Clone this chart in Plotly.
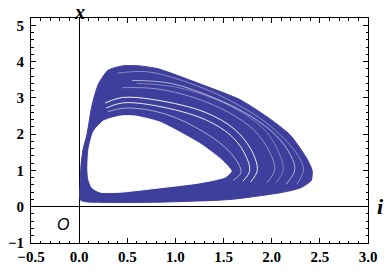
import plotly.graph_objects as go

# outer edge of the attractor (i, x)
outer_i = [0.01, 0.01, 0.02, 0.04, 0.08, 0.135, 0.20, 0.30, 0.45, 0.63, 0.82, 1.31, 1.67, 1.95,
           2.19, 2.36, 2.42, 2.41, 2.30, 2.12, 1.57, 0.74, 0.22, 0.06, 0.01]
outer_x = [0.19, 0.61, 1.16, 1.57, 1.98, 2.81, 3.38, 3.76, 3.88, 3.88, 3.80, 3.33, 2.95, 2.48,
           1.98, 1.35, 1.00, 0.72, 0.52, 0.40, 0.20, 0.12, 0.12, 0.14, 0.19]

# edge of the empty hole inside
inner_i = [0.09, 0.10, 0.15, 0.25, 0.43, 0.58, 0.84, 1.26, 1.48, 1.58, 1.52, 1.26, 0.84, 0.43,
           0.22, 0.135, 0.10, 0.09]
inner_x = [1.02, 1.57, 2.07, 2.36, 2.50, 2.50, 2.33, 1.73, 1.29, 0.98, 0.82, 0.66, 0.52, 0.40,
           0.40, 0.52, 0.74, 1.02]

# thin white gaps between bundles of orbits
gaps = [
    ([0.30, 0.50, 0.90, 1.30, 1.55, 1.66, 1.68, 1.60],
     [2.62, 2.72, 2.55, 2.05, 1.55, 1.15, 0.94, 0.72]),
    ([0.28, 0.45, 0.80, 1.31, 1.60, 1.74, 1.77, 1.70],
     [2.72, 2.86, 2.78, 2.40, 1.90, 1.35, 0.98, 0.70]),
    ([0.27, 0.45, 0.80, 1.31, 1.62, 1.80, 1.85, 1.78],
     [2.86, 3.01, 2.94, 2.60, 2.12, 1.50, 1.00, 0.68]),
    ([0.45, 0.80, 1.20, 1.55, 1.82, 1.98, 2.03, 1.95],
     [3.28, 3.25, 3.00, 2.60, 2.10, 1.50, 1.02, 0.66]),
    ([0.60, 1.00, 1.40, 1.72, 1.95, 2.08, 2.12, 2.04],
     [3.40, 3.30, 2.98, 2.55, 2.05, 1.45, 1.02, 0.64]),
    ([0.55, 0.95, 1.40, 1.78, 2.05, 2.20, 2.24, 2.15],
     [3.48, 3.40, 3.00, 2.50, 1.95, 1.40, 1.02, 0.62]),
    ([0.40, 0.70, 1.10, 1.55, 1.95, 2.25, 2.33, 2.26],
     [3.68, 3.72, 3.45, 2.95, 2.30, 1.50, 1.02, 0.62]),
]
gap_alpha = [0.55, 0.9, 0.95, 0.45, 0.35, 0.6, 0.4]

blue = "rgb(62,62,156)"
fig = go.Figure()
fig.add_trace(go.Scatter(x=outer_i, y=outer_x, mode="lines", fill="toself", fillcolor=blue,
                         line=dict(color=blue, width=1, shape="spline", smoothing=0.6),
                         hoverinfo="skip"))
fig.add_trace(go.Scatter(x=inner_i, y=inner_x, mode="lines", fill="toself", fillcolor="white",
                         line=dict(color="white", width=1, shape="spline", smoothing=0.6),
                         hoverinfo="skip"))
for (gi, gx), a in zip(gaps, gap_alpha):
    fig.add_trace(go.Scatter(x=gi, y=gx, mode="lines", opacity=a,
                             line=dict(color="white", width=1, shape="spline", smoothing=1),
                             hoverinfo="skip"))

serif = "Liberation Serif"
tickfont = dict(family=serif, size=15, color="black", weight="bold")
axis_common = dict(showline=True, linecolor="black", linewidth=1, mirror="ticks",
                   ticks="inside", ticklen=5, tickcolor="black", showgrid=False,
                   zeroline=True, zerolinecolor="black", zerolinewidth=1, automargin=False,
                   tickfont=tickfont, layer="above traces")

fig.update_layout(
    width=390, height=273,
    plot_bgcolor="white", paper_bgcolor="white",
    font=dict(family=serif),
    margin=dict(l=31, r=22, t=18, b=30),
    showlegend=False,
    xaxis=dict(range=[-0.5, 3.0], dtick=0.5, tick0=0, tickformat=".1f",
               minor=dict(dtick=0.1, ticks="inside", ticklen=2.5, tickcolor="black"),
               **axis_common),
    yaxis=dict(range=[-1, 5.2], dtick=1, tick0=0, ticklabelstandoff=3,
               minor=dict(dtick=0.2, ticks="inside", ticklen=2.5, tickcolor="black"),
               **axis_common),
    annotations=[
        dict(x=0, y=1, xref="x", yref="paper", text="<b><i>x</i></b>", showarrow=False,
             xanchor="center", yanchor="top", yshift=18, borderpad=0,
             font=dict(family=serif, size=20, color="black")),
        dict(x=1, y=0, xref="paper", yref="y", text="<b><i>i</i></b>", showarrow=False,
             xanchor="left", yanchor="middle", xshift=7,
             font=dict(family=serif, size=22, color="black")),
        dict(x=-0.17, y=-0.5, xref="x", yref="y", text="<i>O</i>", showarrow=False,
             font=dict(family="Liberation Sans", size=16, color="black")),
    ],
)

# page has a default 8px body margin; drop it so the figure sits at the corner
fig.write_html("out.html", config={"displayModeBar": False},
               post_script="document.body.style.margin='0';")
